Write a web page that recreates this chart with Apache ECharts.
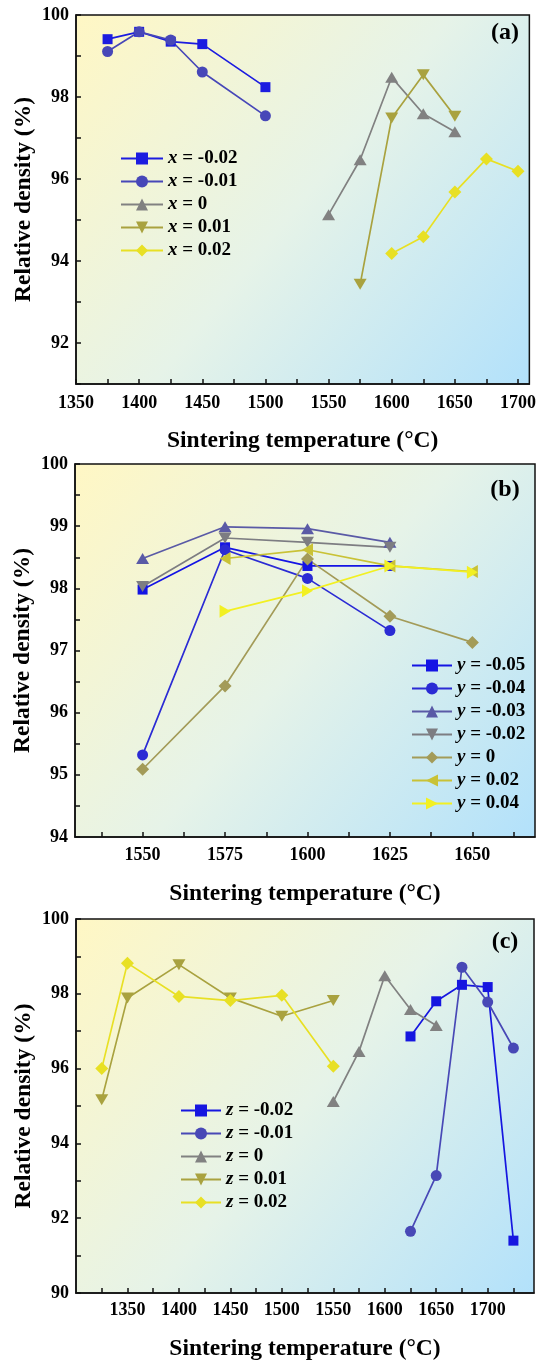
<!DOCTYPE html>
<html>
<head>
<meta charset="utf-8">
<title>Relative density vs sintering temperature</title>
<script src="https://cdn.jsdelivr.net/npm/echarts@6/dist/echarts.min.js"></script>
<style>
  html, body { margin: 0; padding: 0; background: #fff; }
  #chart { width: 539px; height: 1362px; }
</style>
</head>
<body>
<div id="chart"></div>
<script>
// ---- panel (a) data ----
var aNames = ['x = -0.02', 'x = -0.01', 'x = 0', 'x = 0.01', 'x = 0.02'];
var aT1 = [1375, 1400, 1425, 1450, 1500];
var aD1 = [99.41, 99.59, 99.35, 99.29, 98.24];
var aT2 = [1375, 1400, 1425, 1450, 1500];
var aD2 = [99.11, 99.59, 99.39, 98.61, 97.54];
var aT3 = [1550, 1575, 1600, 1625, 1650];
var aD3 = [95.13, 96.47, 98.48, 97.59, 97.15];
var aT4 = [1575, 1600, 1625, 1650];
var aD4 = [93.43, 97.49, 98.54, 97.53];
var aT5 = [1600, 1625, 1650, 1675, 1700];
var aD5 = [94.18, 94.59, 95.68, 96.49, 96.19];
var aXLabels = [1350, 1400, 1450, 1500, 1550, 1600, 1650, 1700];
var aXTicks = [1350, 1375, 1400, 1425, 1450, 1475, 1500, 1525, 1550, 1575, 1600, 1625, 1650, 1675, 1700];
var aYLabels = [92, 94, 96, 98, 100];
var aYTicks = [91, 92, 93, 94, 95, 96, 97, 98, 99, 100];

// ---- panel (b) data ----
var bNames = ['y = -0.05', 'y = -0.04', 'y = -0.03', 'y = -0.02', 'y = 0', 'y = 0.02', 'y = 0.04'];
var bT1 = [1550, 1575, 1600, 1625];
var bD1 = [97.98, 98.66, 98.36, 98.36];
var bT2 = [1550, 1575, 1600, 1625];
var bD2 = [95.32, 98.62, 98.16, 97.32];
var bT3 = [1550, 1575, 1600, 1625];
var bD3 = [98.48, 98.99, 98.96, 98.74];
var bT4 = [1550, 1575, 1600, 1625];
var bD4 = [98.03, 98.81, 98.74, 98.66];
var bT5 = [1550, 1575, 1600, 1625, 1650];
var bD5 = [95.09, 96.43, 98.47, 97.55, 97.13];
var bT6 = [1575, 1600, 1625, 1650];
var bD6 = [98.48, 98.62, 98.36, 98.27];
var bT7 = [1575, 1600, 1625, 1650];
var bD7 = [97.63, 97.96, 98.36, 98.26];
var bXLabels = [1550, 1575, 1600, 1625, 1650];
var bXTicks = [1537.5, 1550, 1562.5, 1575, 1587.5, 1600, 1612.5, 1625, 1637.5, 1650, 1662.5];
var bYLabels = [94, 95, 96, 97, 98, 99, 100];
var bYTicks = [94, 94.5, 95, 95.5, 96, 96.5, 97, 97.5, 98, 98.5, 99, 99.5, 100];

// ---- panel (c) data ----
var cNames = ['z = -0.02', 'z = -0.01', 'z = 0', 'z = 0.01', 'z = 0.02'];
var cT1 = [1625, 1650, 1675, 1700, 1725];
var cD1 = [96.86, 97.80, 98.24, 98.18, 91.40];
var cT2 = [1625, 1650, 1675, 1700, 1725];
var cD2 = [91.65, 93.14, 98.71, 97.78, 96.55];
var cT3 = [1550, 1575, 1600, 1625, 1650];
var cD3 = [95.12, 96.46, 98.48, 97.58, 97.15];
var cT4 = [1325, 1350, 1400, 1450, 1500, 1550];
var cD4 = [95.17, 97.89, 98.78, 97.89, 97.40, 97.82];
var cT5 = [1325, 1350, 1400, 1450, 1500, 1550];
var cD5 = [96.00, 98.82, 97.93, 97.82, 97.96, 96.06];
var cXLabels = [1350, 1400, 1450, 1500, 1550, 1600, 1650, 1700];
var cXTicks = [1325, 1350, 1375, 1400, 1425, 1450, 1475, 1500, 1525, 1550, 1575, 1600, 1625, 1650, 1675, 1700, 1725];
var cYLabels = [90, 92, 94, 96, 98, 100];
var cYTicks = [90, 91, 92, 93, 94, 95, 96, 97, 98, 99, 100];

(function () {
  var myChart = echarts.init(document.getElementById('chart'));
  var serif = '"Liberation Serif", "Times New Roman", serif';

  // marker shapes
  var SQ = { symbol: 'rect', size: 10 };
  var CI = { symbol: 'circle', size: 11 };
  var UP = { symbol: 'triangle', size: [13, 11] };
  var DN = { symbol: 'path://M0,0L10,0L5,10Z', size: [13, 11] };
  var LT = { symbol: 'path://M10,0L10,10L0,5Z', size: [11, 13] };
  var RT = { symbol: 'path://M0,0L10,5L0,10Z', size: [11, 13] };
  var DI = { symbol: 'diamond', size: 13 };

  function line(name, temps, dens, shape, color, gi) {
    return {
      type: 'line',
      name: name,
      xAxisIndex: gi,
      yAxisIndex: gi,
      data: temps.map(function (t, i) { return [t, dens[i]]; }),
      symbol: shape.symbol,
      symbolSize: shape.size,
      showAllSymbol: true,
      lineStyle: { color: color, width: 1.7 },
      itemStyle: { color: color, borderWidth: 0 },
      emphasis: { disabled: true }
    };
  }

  var bg = {
    type: 'linear', x: 0, y: 0, x2: 1, y2: 1,
    colorStops: [
      { offset: 0, color: '#fff7c4' },
      { offset: 0.5, color: '#e6f3e8' },
      { offset: 1, color: '#b2e1fb' }
    ]
  };

  function grid(left, top, width, height) {
    return {
      left: left, top: top, width: width, height: height,
      show: true, backgroundColor: bg,
      borderColor: '#111', borderWidth: 1.5
    };
  }

  // plain numbers, no thousands separator
  function plain(v) { return String(v); }

  function xAxis(gi, min, max, labels, ticks, margin, gap) {
    return {
      type: 'value', gridIndex: gi, min: min, max: max,
      name: 'Sintering temperature (°C)',
      nameLocation: 'middle', nameGap: gap, nameMoveOverlap: false,
      nameTextStyle: { fontFamily: serif, fontWeight: 'bold', fontSize: 23.5, color: '#000' },
      axisLine: { show: true, lineStyle: { color: '#111', width: 1.5 } },
      axisTick: { show: true, inside: true, length: 5, customValues: ticks, lineStyle: { color: '#111', width: 1.5 } },
      axisLabel: { customValues: labels, formatter: plain, margin: margin, fontFamily: serif, fontWeight: 'bold', fontSize: 18, color: '#000' },
      splitLine: { show: false }
    };
  }

  function yAxis(gi, min, max, labels, ticks) {
    return {
      type: 'value', gridIndex: gi, min: min, max: max,
      name: 'Relative density (%)',
      nameLocation: 'middle', nameGap: 40, nameMoveOverlap: false,
      nameTextStyle: { fontFamily: serif, fontWeight: 'bold', fontSize: 23.5, color: '#000' },
      axisLine: { show: true, lineStyle: { color: '#111', width: 1.5 } },
      axisTick: { show: true, inside: true, length: 5, customValues: ticks, lineStyle: { color: '#111', width: 1.5 } },
      axisLabel: { customValues: labels, formatter: plain, margin: 7, fontFamily: serif, fontWeight: 'bold', fontSize: 18, color: '#000' },
      splitLine: { show: false }
    };
  }

  function legendFmt(name) {
    var sp = name.indexOf(' ');
    return '{i|' + name.slice(0, sp) + '}{n|' + name.slice(sp) + '}';
  }

  function legend(names, left, top, itemWidth) {
    return {
      data: names,
      orient: 'vertical',
      left: left, top: top,
      itemWidth: itemWidth, itemHeight: 15, itemGap: 4,
      selectedMode: false,
      formatter: legendFmt,
      textStyle: {
        color: '#000',
        rich: {
          i: { fontFamily: serif, fontStyle: 'italic', fontWeight: 'bold', fontSize: 19, color: '#000' },
          n: { fontFamily: serif, fontWeight: 'bold', fontSize: 19, color: '#000' }
        }
      }
    };
  }

  function panelLabel(text, x, y) {
    return {
      type: 'text', x: x, y: y, z: 100,
      style: { text: text, fill: '#000', font: 'bold 24px "Liberation Serif", serif', textAlign: 'center', textVerticalAlign: 'middle' }
    };
  }

  var option = {
    animation: false,
    backgroundColor: '#fff',
    grid: [
      grid(76, 15, 455, 369),
      grid(75, 464, 460, 373),
      grid(76, 919, 458, 374)
    ],
    xAxis: [
      xAxis(0, 1350, 1709, aXLabels, aXTicks, 10, 45),
      xAxis(1, 1529.5, 1669, bXLabels, bXTicks, 9, 45),
      xAxis(2, 1300, 1745, cXLabels, cXTicks, 8, 44)
    ],
    yAxis: [
      yAxis(0, 91, 100, aYLabels, aYTicks),
      yAxis(1, 94, 100, bYLabels, bYTicks),
      yAxis(2, 90, 100, cYLabels, cYTicks)
    ],
    legend: [
      legend(aNames, 115, 144, 42),
      legend(bNames, 406, 651, 40),
      legend(cNames, 175, 1096, 40)
    ],
    graphic: [
      panelLabel('(a)', 505, 33),
      panelLabel('(b)', 505, 490),
      panelLabel('(c)', 505, 942)
    ],
    series: [
      line(aNames[0], aT1, aD1, SQ, '#1c1ce0', 0),
      line(aNames[1], aT2, aD2, CI, '#4747b8', 0),
      line(aNames[2], aT3, aD3, UP, '#818181', 0),
      line(aNames[3], aT4, aD4, DN, '#a9a23f', 0),
      line(aNames[4], aT5, aD5, DI, '#e8e024', 0),

      line(bNames[0], bT1, bD1, SQ, '#1414e4', 1),
      line(bNames[1], bT2, bD2, CI, '#2b2bd4', 1),
      line(bNames[2], bT3, bD3, UP, '#5a5aa6', 1),
      line(bNames[3], bT4, bD4, DN, '#7d7d82', 1),
      line(bNames[4], bT5, bD5, DI, '#a39b58', 1),
      line(bNames[5], bT6, bD6, LT, '#c9c236', 1),
      line(bNames[6], bT7, bD7, RT, '#f2f022', 1),

      line(cNames[0], cT1, cD1, SQ, '#1616e0', 2),
      line(cNames[1], cT2, cD2, CI, '#4848b6', 2),
      line(cNames[2], cT3, cD3, UP, '#818181', 2),
      line(cNames[3], cT4, cD4, DN, '#a9a23f', 2),
      line(cNames[4], cT5, cD5, DI, '#e8e024', 2)
    ]
  };

  myChart.setOption(option);
  window.addEventListener('resize', function () {
    myChart.resize();
  });
})();
</script>
</body>
</html>
